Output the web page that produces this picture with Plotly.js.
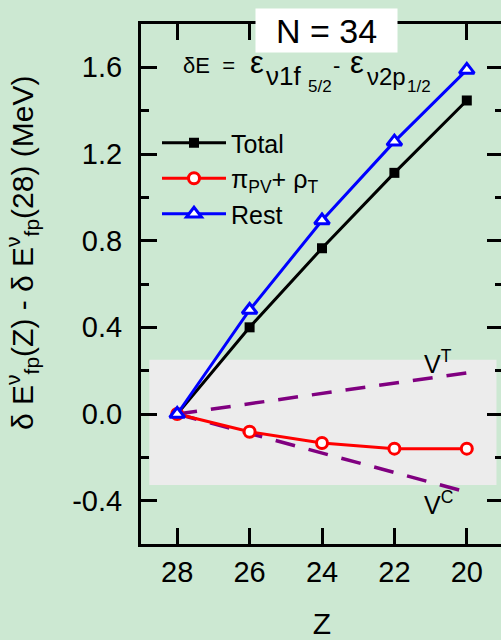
<!DOCTYPE html>
<html>
<head>
<meta charset="utf-8">
<script src="https://cdn.plot.ly/plotly-3.0.1.min.js"></script>
<style>
html,body{margin:0;padding:0;overflow:hidden;background:#cce8d2;}
#chart{width:505px;height:640px;}
</style>
</head>
<body>
<div id="chart"></div>
<script>
// ---- data ----
var Z = [28, 26, 24, 22, 20];
var totalVals = [0, 0.40, 0.765, 1.113, 1.447];
var pirhoVals = [0, -0.082, -0.134, -0.16, -0.16];
var restVals = [0, 0.48, 0.893, 1.257, 1.588];
var vtZ = [28, 20];
var vtVals = [0, 0.19];
var vcZ = [28, 20];
var vcVals = [0, -0.36];
var yTickVals = [-0.4, 0.0, 0.4, 0.8, 1.2, 1.6];
var yTickText = ["-0.4", "0.0", "0.4", "0.8", "1.2", "1.6"];
var xTickVals = [28, 26, 24, 22, 20];
var xTickText = ["28", "26", "24", "22", "20"];

var FONT = "Arial, 'Liberation Sans', sans-serif";
var BG = "#cce8d2";

// plot-area geometry helpers (pixels -> paper)
var L = 141, PW = 362, T = 24, PH = 520;
function px(x) { return (x - L) / PW; }
function py(y) { return (T + PH - y) / PH; }

var traces = [
  {x: vtZ, y: vtVals, mode: "lines", showlegend: false, hoverinfo: "skip",
   line: {color: "#800080", width: 3.5, dash: "20px,14px"}},
  {x: vcZ, y: vcVals, mode: "lines", showlegend: false, hoverinfo: "skip",
   line: {color: "#800080", width: 3.5, dash: "20px,14px"}},
  {x: Z, y: totalVals, mode: "lines+markers", name: "Total",
   line: {color: "#000000", width: 3},
   marker: {symbol: "square", size: 10, color: "#000000"}},
  {x: Z, y: pirhoVals, mode: "lines+markers", name: "π<sub>PV</sub>+ ρ<sub>T</sub>",
   line: {color: "#ff0000", width: 3},
   marker: {symbol: "circle", size: 11, color: "#ffffff", line: {color: "#ff0000", width: 3}}},
  {x: Z, y: restVals, mode: "lines+markers", name: "Rest",
   line: {color: "#0000ff", width: 3},
   marker: {symbol: "triangle-up", size: 13, color: "#ffffff", line: {color: "#0000ff", width: 3}}}
];

function ann(text, x, y, size, xanchor, extra) {
  var a = {xref: "paper", yref: "paper", x: px(x), y: py(y), xanchor: xanchor || "left",
           yanchor: "middle", showarrow: false, text: text,
           font: {family: FONT, size: size, color: "#000"}};
  if (extra) for (var k in extra) a[k] = extra[k];
  return a;
}

// formula pieces: baseline-aligned (middle = baseline - 0.347*size)
function base(b, s) { return b - 0.347 * s; }

var annotations = [
  ann("N = 34", 326.5, 30.5, 34, "center", {bgcolor: "#ffffff", width: 141, height: 43, borderpad: 0}),
  ann("δE\u00a0\u00a0=", 181, base(73, 22), 22),
  ann("ε", 248, base(73.5, 31), 31),
  ann("ν1f", 264, base(85, 26), 26),
  ann("5/2", 306, base(92.5, 17), 17),
  ann("-", 331, base(73, 22), 22),
  ann("ε", 348, base(73.5, 31), 31),
  ann("ν2p", 365, base(85, 24), 24),
  ann("1/2", 405, base(92.5, 17), 17),
  ann("δ E<sup>ν</sup><sub>fp</sub>(Z) - δ E<sup>ν</sup><sub>fp</sub>(28) (MeV)", 22, 253, 30, "center", {textangle: -90}),
  ann("V<sup>T</sup>", 438, 362, 25, "center"),
  ann("V<sup>C</sup>", 438, 503, 25, "center")
];

var layout = {
  width: 505, height: 640,
  margin: {l: L, r: 505 - L - PW, t: T, b: 640 - T - PH},
  paper_bgcolor: BG, plot_bgcolor: BG,
  font: {family: FONT, color: "#000000"},
  showlegend: true,
  legend: {
    x: px(157), y: py(120), xanchor: "left", yanchor: "top",
    bgcolor: "rgba(0,0,0,0)", borderwidth: 0,
    font: {family: FONT, size: 25, color: "#000"},
    itemwidth: 64, tracegroupgap: 0
  },
  xaxis: {
    range: [29, 19],
    tickvals: xTickVals, ticktext: xTickText,
    ticks: "inside", ticklen: 16, tickwidth: 3, tickcolor: "#000",
    showline: true, linewidth: 3, linecolor: "#000", mirror: "ticks",
    showgrid: false, zeroline: false,
    tickfont: {family: FONT, size: 29, color: "#000"},
    title: {text: "Z", font: {family: FONT, size: 30, color: "#000"}, standoff: 35}
  },
  yaxis: {
    range: [-0.6, 1.8],
    tickvals: yTickVals, ticktext: yTickText,
    ticks: "inside", ticklen: 16, tickwidth: 3, tickcolor: "#000",
    ticklabelstandoff: 10,
    minor: {dtick: 0.2, tick0: 0, ticks: "inside", ticklen: 8, tickwidth: 3, tickcolor: "#000", showgrid: false},
    showline: true, linewidth: 3, linecolor: "#000", mirror: "ticks",
    showgrid: false, zeroline: false,
    tickfont: {family: FONT, size: 29, color: "#000"}
  },
  shapes: [
    {type: "rect", xref: "x", yref: "y", x0: 28.77, x1: 19.18, y0: -0.328, y1: 0.25,
     fillcolor: "#ececec", line: {width: 0}, layer: "below"},
    {type: "line", xref: "paper", yref: "y", x0: 0, x1: 1, y0: 0, y1: 0,
     line: {color: "#000", width: 2, dash: "10px,4px,3px,4px"}, layer: "below"}
  ],
  annotations: annotations
};

Plotly.newPlot("chart", traces, layout, {displayModeBar: false, staticPlot: true});
</script>
</body>
</html>
